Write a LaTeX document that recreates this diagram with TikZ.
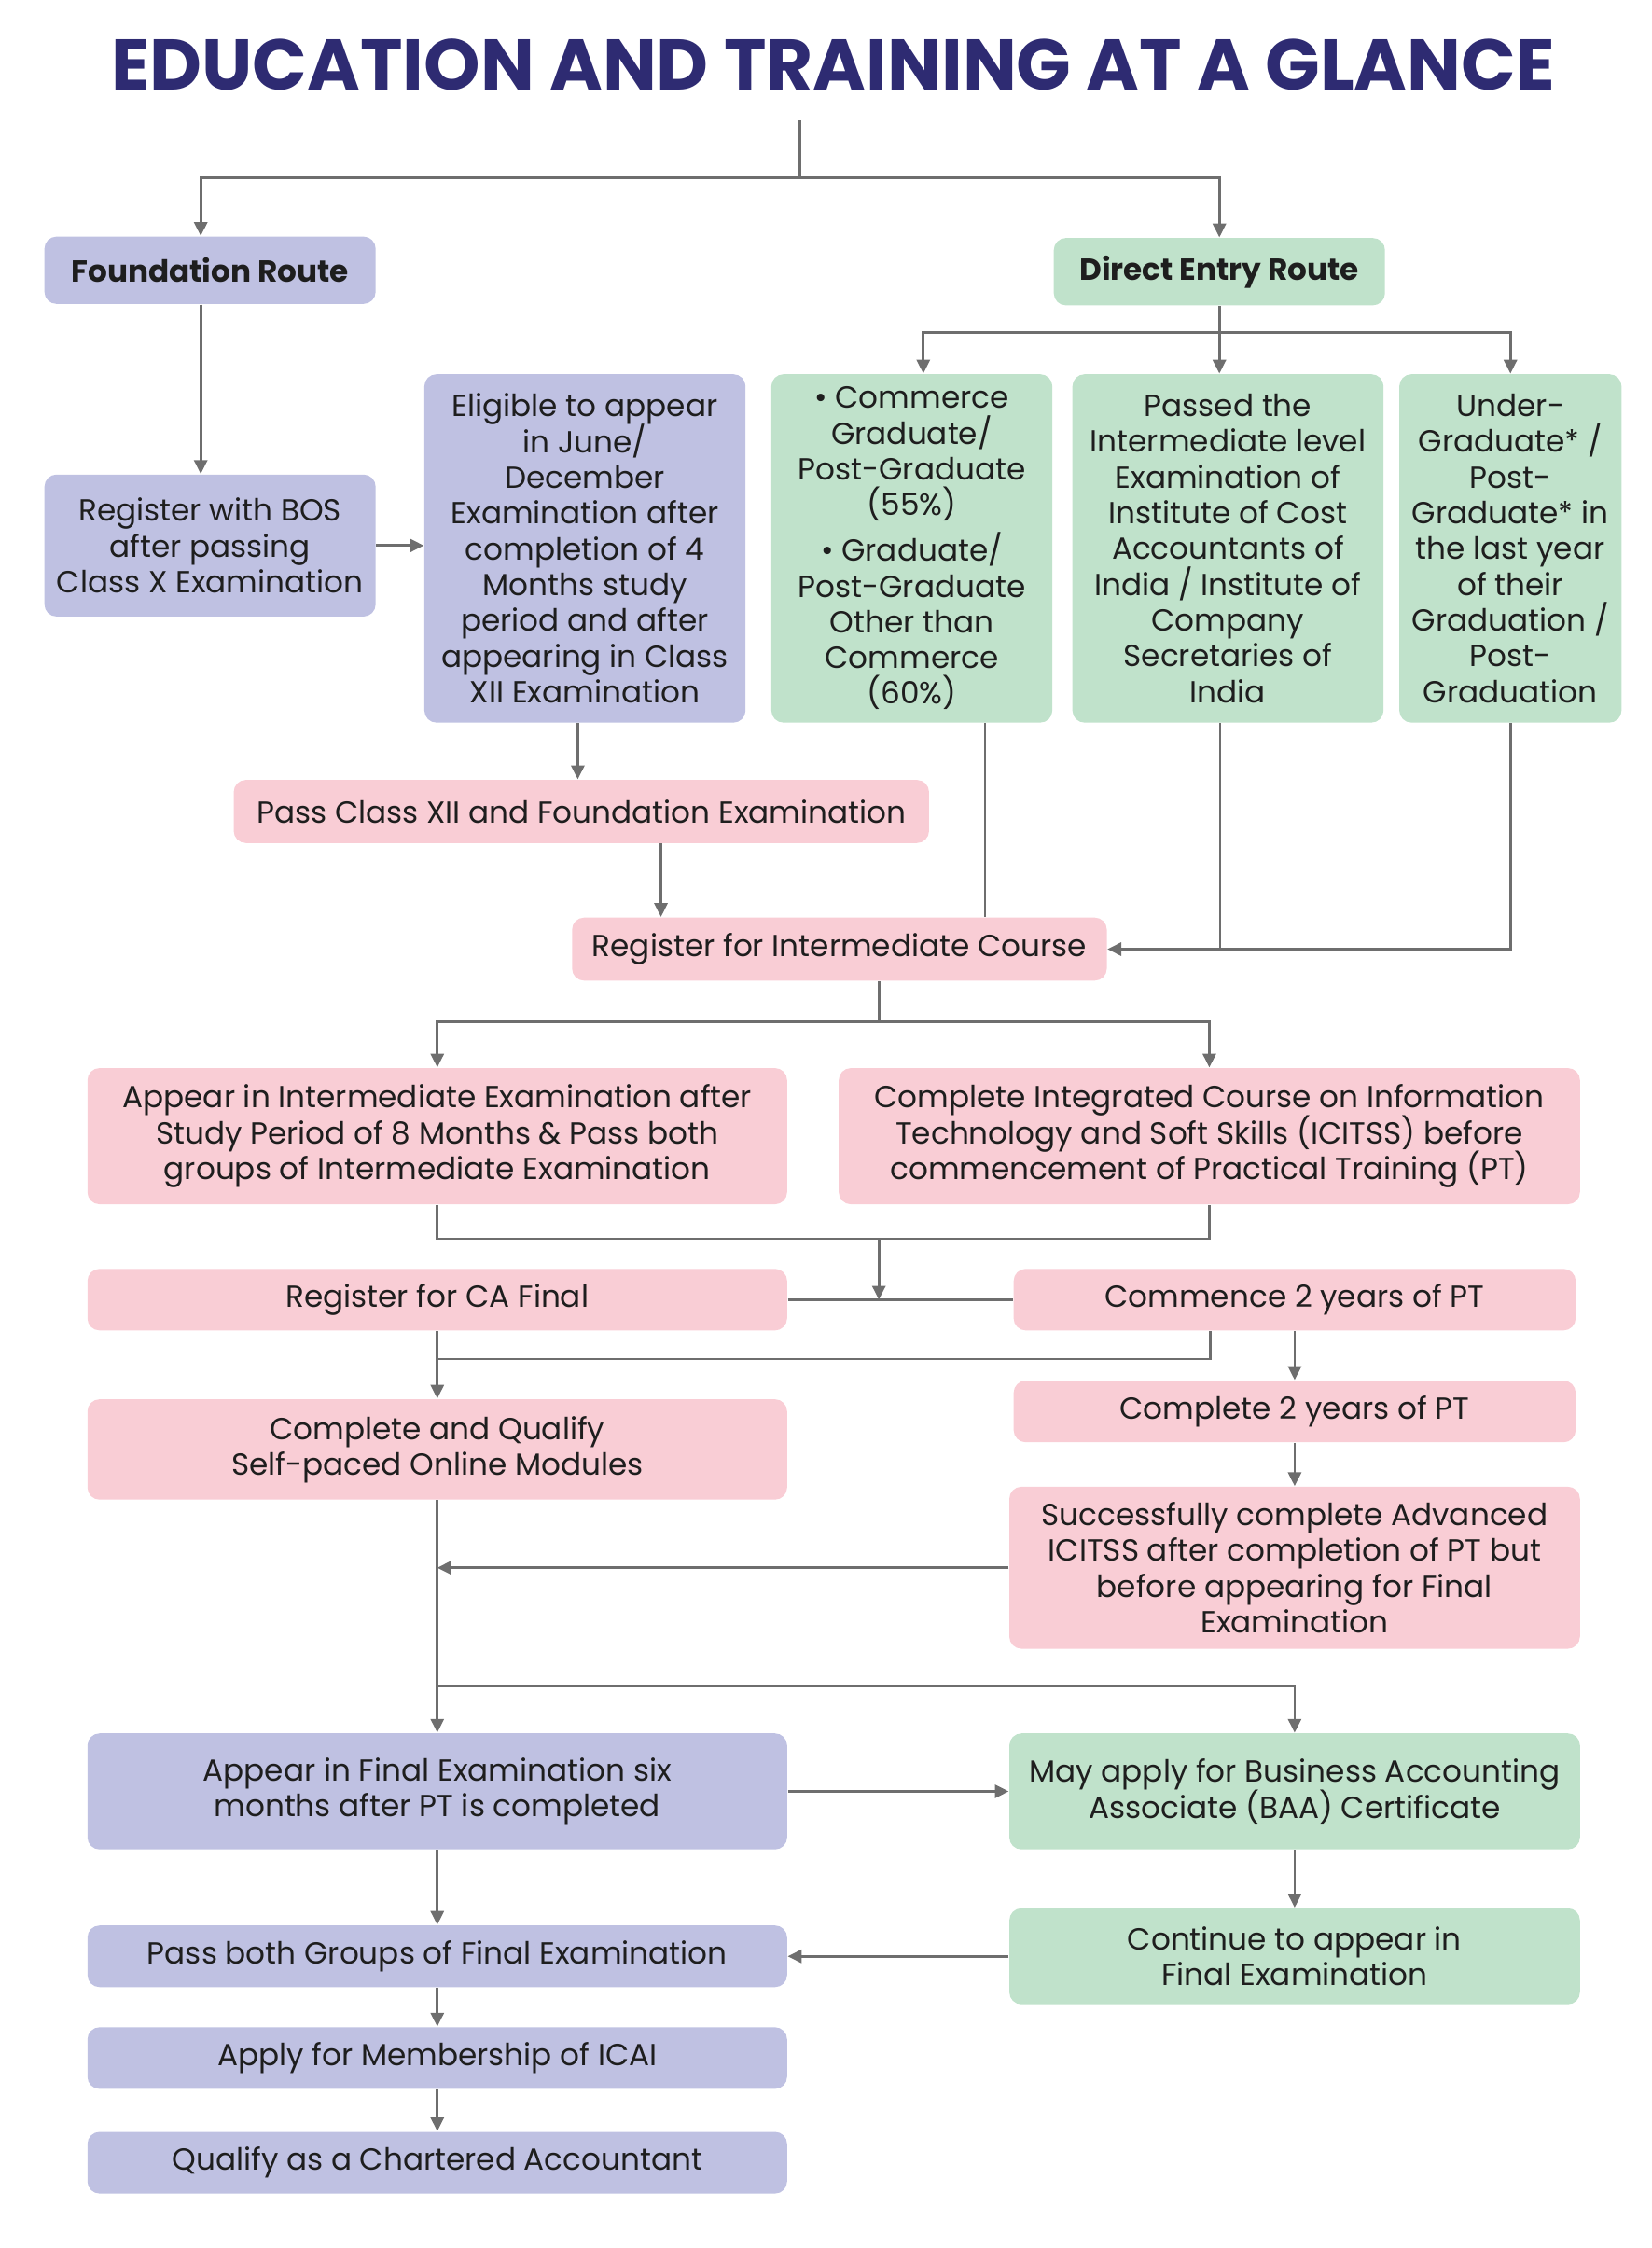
\documentclass[tikz,border=0pt]{standalone}
\usepackage{fontspec}
\setmainfont{Poppins}
\usetikzlibrary{arrows.meta}
\definecolor{titleNavy}{HTML}{2E2B72}
\definecolor{boxPurple}{HTML}{BFC1E2}
\definecolor{boxGreen}{HTML}{C0E2CB}
\definecolor{boxPink}{HTML}{F9CDD5}
\definecolor{lineGray}{HTML}{6E6E6E}
\definecolor{textDark}{HTML}{1E1E1E}
\newcommand{\px}{0.015373cm}
\newcommand{\tightlines}{\lineskiplimit=-10pt\relax}
\tikzset{
  box/.style={rectangle, rounded corners=0.13cm, inner sep=0pt, align=center,
    text=textDark, font=\fontsize{9.3}{10.9}\selectfont\tightlines},
  boxsize/.style 2 args={minimum width=#1*\px, minimum height=#2*\px},
  purplebox/.style={box, fill=boxPurple},
  greenbox/.style={box, fill=boxGreen},
  pinkbox/.style={box, fill=boxPink},
  routefont/.style={font=\fontsize{9.3}{10.9}\selectfont\bfseries},
  link/.style={draw=lineGray, line width=0.8pt},
  arrowlink/.style={link, -{Triangle[length=4.2pt,width=4pt]}},
}

\begin{document}
\begin{tikzpicture}[x=\px, y=-\px]
  \useasboundingbox (0,0) rectangle (1152,1568);

  % Title
  \node[font=\fontsize{21.9}{26}\selectfont\bfseries, text=titleNavy] (title) at (581,45)
    {EDUCATION AND TRAINING AT A GLANCE};

  % Routes
  \node[purplebox, boxsize={231}{47}, routefont] (found) at (146.5,188.5) {Foundation Route};
  \node[greenbox, boxsize={231}{47}, routefont] (direct) at (850.5,189.5) {Direct Entry Route};

  % Foundation side
  \node[purplebox, boxsize={231}{99}] (bos) at (146.5,380.5)
    {Register with BOS\\after passing\\Class X Examination};
  \node[purplebox, boxsize={224}{243}] (elig) at (408,382.5)
    {Eligible to appear\\in June/\\December\\Examination after\\completion of 4\\Months study\\period and after\\appearing in Class\\XII Examination};

  % Direct entry side
  \node[greenbox, boxsize={196}{243}] (commerce) at (636,382.5)
    {\textbullet\ Commerce\\Graduate/\\Post-Graduate\\(55\%)\\[3pt]\textbullet\ Graduate/\\Post-Graduate\\Other than\\Commerce\\(60\%)};
  \node[greenbox, boxsize={217}{243}] (passed) at (856.5,382.5)
    {Passed the\\Intermediate level\\Examination of\\Institute of Cost\\Accountants of\\India / Institute of\\Company\\Secretaries of\\India};
  \node[greenbox, boxsize={155}{243}] (under) at (1053.5,382.5)
    {Under-\\Graduate* /\\Post-\\Graduate* in\\the last year\\of their\\Graduation /\\Post-\\Graduation};

  % Intermediate
  \node[pinkbox, boxsize={485}{44}] (passxii) at (405.5,566) {Pass Class XII and Foundation Examination};
  \node[pinkbox, boxsize={373}{44}] (regint) at (585.5,662) {Register for Intermediate Course};
  \node[pinkbox, boxsize={488}{95}] (appint) at (305,792.5)
    {Appear in Intermediate Examination after\\Study Period of 8 Months \& Pass both\\groups of Intermediate Examination};
  \node[pinkbox, boxsize={517}{95}] (icitss) at (843.5,792.5)
    {Complete Integrated Course on Information\\Technology and Soft Skills (ICITSS) before\\commencement of Practical Training (PT)};

  % Final and PT
  \node[pinkbox, boxsize={488}{43}] (regca) at (305,906.5) {Register for CA Final};
  \node[pinkbox, boxsize={392}{43}] (commence) at (903,906.5) {Commence 2 years of PT};
  \node[pinkbox, boxsize={488}{70}] (modules) at (305,1011)
    {Complete and Qualify\\Self-paced Online Modules};
  \node[pinkbox, boxsize={392}{43}] (complete2) at (903,984.5) {Complete 2 years of PT};
  \node[pinkbox, boxsize={398}{113}] (adv) at (903,1093.5)
    {Successfully complete Advanced\\ICITSS after completion of PT but\\before appearing for Final\\Examination};

  \node[purplebox, boxsize={488}{81}] (appfinal) at (305,1249.5)
    {Appear in Final Examination six\\months after PT is completed};
  \node[greenbox, boxsize={398}{81}] (baa) at (903,1249.5)
    {May apply for Business Accounting\\Associate (BAA) Certificate};
  \node[greenbox, boxsize={398}{67}] (cont) at (903,1364.5)
    {Continue to appear in\\Final Examination};
  \node[purplebox, boxsize={488}{43}] (passfinal) at (305,1364.5) {Pass both Groups of Final Examination};
  \node[purplebox, boxsize={488}{43}] (member) at (305,1435.5) {Apply for Membership of ICAI};
  \node[purplebox, boxsize={488}{43}] (qualify) at (305,1508.5) {Qualify as a Chartered Accountant};

  % Forks and joins
  \coordinate (split) at (558,84);
  \coordinate (fork1) at (558,124);
  \coordinate (fork2) at (850.5,232);
  \coordinate (fork3) at (613,713);
  \coordinate (join1) at (613,864);
  \coordinate (join2) at (305,948);
  \coordinate (fork4) at (305,1176);

  % Connectors
  \draw[link] (split) -- (fork1);
  \draw[arrowlink] (fork1) -| (140,0 |- found.north);
  \draw[arrowlink] (fork1) -| (direct);
  \draw[arrowlink] (140,0 |- found.south) -- (140,0 |- bos.north);
  \draw[arrowlink] (bos.east) -- (bos.east -| elig.west);
  \draw[link] (direct) -- (fork2);
  \draw[arrowlink] (fork2) -| (644,0 |- commerce.north);
  \draw[arrowlink] (fork2) -- (fork2 |- passed.north);
  \draw[arrowlink] (fork2) -| (under);
  \draw[arrowlink] (403,0 |- elig.south) -- (403,0 |- passxii.north);
  \draw[arrowlink] (461,0 |- passxii.south) -- (461,0 |- regint.north);
  \draw[link] (687,0 |- commerce.south) -- (687,0 |- regint.north);
  \draw[link] (851,0 |- passed.south) -- (851,0 |- regint.east);
  \draw[arrowlink] (under.south) |- (regint.east);
  \draw[link] (fork3 |- regint.south) -- (fork3);
  \draw[arrowlink] (fork3) -| (appint);
  \draw[arrowlink] (fork3) -| (icitss);
  \draw[link] (appint.south) |- (join1) -| (icitss.south);
  \draw[link] (regca.east) -- (commence.west);
  \draw[arrowlink] (join1) -- (join1 |- regca.east);
  \draw[link] (844,0 |- commence.south) |- (join2);
  \draw[arrowlink] (regca) -- (modules);
  \draw[arrowlink] (commence) -- (complete2);
  \draw[arrowlink] (complete2) -- (adv);
  \draw[arrowlink] (adv.west) -- (adv.west -| modules.south);
  \draw[arrowlink] (modules) -- (appfinal);
  \draw[arrowlink] (fork4) -| (baa);
  \draw[arrowlink] (appfinal) -- (baa);
  \draw[arrowlink] (baa) -- (cont);
  \draw[arrowlink] (cont.west) -- (cont.west -| passfinal.east);
  \draw[arrowlink] (appfinal) -- (passfinal);
  \draw[arrowlink] (passfinal) -- (member);
  \draw[arrowlink] (member) -- (qualify);
\end{tikzpicture}
\end{document}
